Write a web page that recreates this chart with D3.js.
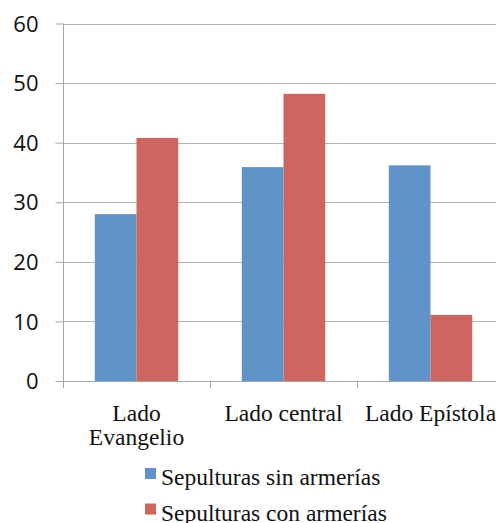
<!DOCTYPE html>
<html>
<head>
<meta charset="utf-8">
<script src="https://cdn.jsdelivr.net/npm/d3@7/dist/d3.min.js"></script>
<style>
  html, body { margin: 0; padding: 0; background: #fff; overflow: hidden; }
</style>
</head>
<body>
<svg id="chart" width="496" height="523"></svg>
<script>
const categories = [["Lado", "Evangelio"], ["Lado central"], ["Lado Epístola"]];
const seriesNames = ["Sepulturas sin armerías", "Sepulturas con armerías"];
const sinArmerias = [28, 35.9, 36.2];
const conArmerias = [40.8, 48.2, 11.1];
const yTicks = [0, 10, 20, 30, 40, 50, 60];
const colors = ["#6094c9", "#cd6560"];

const svg = d3.select("#chart");
const plotLeft = 63, plotTop = 23.5, plotBottom = 381, plotRight = 504;
const catKeys = categories.map((c, i) => i);

const y = d3.scaleLinear().domain([0, 60]).range([plotBottom, plotTop]);
const x0 = d3.scaleBand().domain(catKeys).range([plotLeft, plotRight]).paddingInner(0).paddingOuter(0);
const x1 = d3.scaleBand().domain([0, 1]).range([0, x0.bandwidth()]).paddingInner(0).paddingOuter(0.7626);

const gridColor = "#b4b4b4";
const axisColor = "#a6a6a6";

// gridlines
svg.append("g").selectAll("line").data(yTicks.filter(t => t > 0)).join("line")
  .attr("x1", plotLeft).attr("x2", 496)
  .attr("y1", d => Math.round(y(d)) + 0.5).attr("y2", d => Math.round(y(d)) + 0.5)
  .attr("stroke", gridColor).attr("stroke-width", 1);

// bars
const data = [sinArmerias, conArmerias];
const g = svg.append("g");
catKeys.forEach(ci => {
  data.forEach((vals, si) => {
    g.append("rect")
      .attr("x", x0(ci) + x1(si))
      .attr("y", y(vals[ci]))
      .attr("width", x1.bandwidth())
      .attr("height", plotBottom - y(vals[ci]))
      .attr("fill", colors[si]);
  });
});

// y axis
const yAxis = d3.axisLeft(y).tickValues(yTicks).tickSize(8).tickFormat(d3.format("d"));
const ya = svg.append("g").attr("transform", `translate(${plotLeft + 0.5},0)`).call(yAxis);
ya.select(".domain").attr("stroke", axisColor).attr("d", `M0,${plotTop}V${plotBottom + 7}`);
ya.selectAll(".tick line").attr("stroke", axisColor);
ya.selectAll(".tick text")
  .attr("x", -25)
  .attr("dy", "0.35em")
  .attr("font-family", "'Open Sans', sans-serif")
  .attr("font-size", 22)
  .attr("fill", "#111");

// x axis baseline and ticks
svg.append("line").attr("x1", plotLeft).attr("x2", 496)
  .attr("y1", Math.round(plotBottom) + 0.5).attr("y2", Math.round(plotBottom) + 0.5)
  .attr("stroke", axisColor);
svg.append("g").selectAll("line").data(catKeys.slice(1)).join("line")
  .attr("x1", d => Math.round(x0(d)) + 0.5).attr("x2", d => Math.round(x0(d)) + 0.5)
  .attr("y1", plotBottom).attr("y2", plotBottom + 7)
  .attr("stroke", axisColor);

// category labels
const labels = svg.append("g")
  .attr("font-family", "'Liberation Serif', 'Times New Roman', serif")
  .attr("font-size", 23.5).attr("fill", "#111").attr("text-anchor", "middle");
categories.forEach((lines, ci) => {
  const t = labels.append("text").attr("x", x0(ci) + x0.bandwidth() / 2).attr("y", 420.5);
  lines.forEach((ln, li) => {
    t.append("tspan").attr("x", x0(ci) + x0.bandwidth() / 2).attr("dy", li === 0 ? 0 : 24).text(ln);
  });
});

// legend
const leg = svg.append("g");
seriesNames.forEach((name, i) => {
  const yy = 468 + i * 35.5;
  leg.append("rect").attr("x", 145).attr("y", yy).attr("width", 11).attr("height", 11).attr("fill", colors[i]);
  leg.append("text").attr("x", 161).attr("y", yy + 17)
    .attr("font-family", "'Liberation Serif', 'Times New Roman', serif")
    .attr("font-size", 23.5).attr("fill", "#111").text(name);
});
</script>
</body>
</html>
